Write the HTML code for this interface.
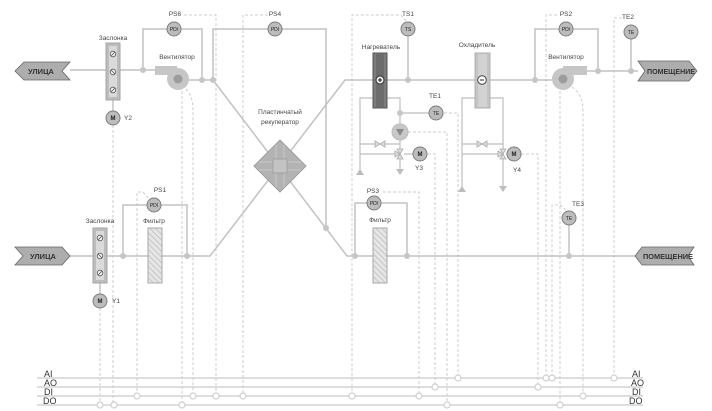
<!DOCTYPE html>
<html><head><meta charset="utf-8">
<style>
html,body{margin:0;padding:0;background:#fff;}
svg{display:block;}
text{font-family:"Liberation Sans",sans-serif;}
</style></head><body>
<svg width="712" height="411" viewBox="0 0 712 411" xmlns="http://www.w3.org/2000/svg">
<defs>
<pattern id="hatch" width="4" height="4" patternUnits="userSpaceOnUse" patternTransform="rotate(-45)">
<rect width="4" height="4" fill="#e6e6e6"/>
<line x1="0" y1="0" x2="0" y2="4" stroke="#bdbdbd" stroke-width="1.6"/>
</pattern>
</defs>
<rect width="712" height="411" fill="#fff"/>

<!-- bus lines -->
<g stroke="#d3d3d3" stroke-width="1.6">
<line x1="37" y1="378" x2="643" y2="378"/>
<line x1="37" y1="387" x2="643" y2="387"/>
<line x1="37" y1="396" x2="643" y2="396"/>
<line x1="37" y1="405" x2="643" y2="405"/>
</g>

<!-- dashed signal lines -->
<g fill="none" stroke="#cdcdcd" stroke-width="1" stroke-dasharray="3,2">
<path d="M113 125 V405"/>
<path d="M100 308 V405"/>
<path d="M137 396 V192 H143 L148 198"/>
<path d="M182 91 V405"/>
<path d="M186 89 Q193 96 193 110 V396"/>
<path d="M184 15 H216 V396"/>
<path d="M268 15 H243 V396"/>
<path d="M406 21 L401 15 H352 V396"/>
<path d="M383 192 H419 V396"/>
<path d="M428 154 H435 V387"/>
<path d="M408 132 H447 V405"/>
<path d="M444 113 H458 V378"/>
<path d="M521 154 H538 V387"/>
<path d="M557 15 H546 V378"/>
<path d="M566 210 L560 205 H552 V378"/>
<path d="M560 91 V405"/>
<path d="M572 87 Q583 95 583 110 V396"/>
<path d="M622 18 H614 V378"/>
</g>

<!-- bus circles -->
<g fill="#fff" stroke="#cfcfcf" stroke-width="1.2">
<circle cx="458" cy="378" r="3"/><circle cx="546" cy="378" r="3"/><circle cx="552" cy="378" r="3"/><circle cx="614" cy="378" r="3"/>
<circle cx="435" cy="387" r="3"/><circle cx="538" cy="387" r="3"/>
<circle cx="137" cy="396" r="3"/><circle cx="193" cy="396" r="3"/><circle cx="216" cy="396" r="3"/><circle cx="243" cy="396" r="3"/><circle cx="352" cy="396" r="3"/><circle cx="419" cy="396" r="3"/><circle cx="583" cy="396" r="3"/>
<circle cx="100" cy="405" r="3"/><circle cx="114" cy="405" r="3"/><circle cx="182" cy="405" r="3"/><circle cx="447" cy="405" r="3"/><circle cx="560" cy="405" r="3"/>
</g>
<g font-size="9" fill="#333">
<text x="44" y="377">AI</text><text x="44" y="386">AO</text><text x="44" y="395">DI</text><text x="43" y="404">DO</text>
<text x="632" y="377">AI</text><text x="631" y="386">AO</text><text x="632" y="395">DI</text><text x="629" y="404">DO</text>
</g>

<!-- ducts -->
<g fill="none" stroke="#c2c2c2" stroke-width="1.5">
<path d="M70 70 H106"/>
<path d="M120 70 H155"/>
<path d="M143 70 V29 H167"/>
<path d="M181 29 H202 V80"/>
<path d="M189 80 H213"/>
<path d="M213 80 V29 H268"/>
<path d="M282 29 H326 V228"/>
<path d="M213 80 L347 256 H635"/>
<path d="M70 256 H93"/>
<path d="M107 256 H210 L345 80 H552"/>
<path d="M123 256 V205 H147"/>
<path d="M161 205 H187 V256"/>
<path d="M355 256 V203 H367"/>
<path d="M381 203 H407 V256"/>
<path d="M408 36 V80"/>
<path d="M535 80 V29 H559"/>
<path d="M573 29 H598 V71"/>
<path d="M587 71 H638"/>
<path d="M631 39 V71"/>
<path d="M569 225 V256"/>
<path d="M113 100 V111"/>
<path d="M100 283 V294"/>
</g>

<!-- piping -->
<g fill="none" stroke="#bdbdbd" stroke-width="1.2">
<path d="M360 170 V98 H400 V170"/>
<path d="M360 144 H400"/>
<path d="M360 154 H396"/>
<path d="M400 113 H429"/>
<path d="M404 154 H413"/>
<path d="M462 187 V98 H503 V187"/>
<path d="M462 144 H503"/>
<path d="M462 154 H499"/>
<path d="M506 154 H507"/>
</g>
<g fill="#bdbdbd">
<polygon points="356,175 364,175 360,169"/>
<polygon points="396,169 404,169 400,175"/>
<polygon points="458,192 466,192 462,186"/>
<polygon points="499,186 507,186 503,192"/>
</g>
<!-- bowtie valves -->
<g fill="#dedede" stroke="#aaa" stroke-width="0.8">
<polygon points="375,141 380,144 375,147"/><polygon points="385,141 380,144 385,147"/>
<polygon points="477,141 482,144 477,147"/><polygon points="487,141 482,144 487,147"/>
<polygon points="397,149 400,154 403,149"/><polygon points="397,159 400,154 403,159"/><polygon points="395,151 400,154 395,157"/>
<polygon points="500,149 503,154 506,149"/><polygon points="500,159 503,154 506,159"/><polygon points="498,151 503,154 498,157"/>
</g>
<!-- pump -->
<circle cx="400" cy="132" r="8" fill="#c8c8c8" stroke="#bbb"/>
<polygon points="396,129 404,129 400,136" fill="#8a8a8a"/>

<!-- junction dots -->
<g fill="#c6c6c6">
<circle cx="143" cy="70" r="3"/><circle cx="202" cy="80" r="3"/><circle cx="213" cy="80" r="3"/>
<circle cx="123" cy="256" r="3"/><circle cx="187" cy="256" r="3"/>
<circle cx="326" cy="228" r="3"/><circle cx="355" cy="256" r="3"/><circle cx="407" cy="256" r="3"/><circle cx="569" cy="256" r="3"/>
<circle cx="408" cy="80" r="3"/><circle cx="400" cy="113" r="3"/>
<circle cx="535" cy="80" r="3"/><circle cx="598" cy="71" r="3"/><circle cx="631" cy="71" r="3"/>
</g>

<!-- arrows -->
<polygon points="15,71 24,62 70,62 62,71 70,80 24,80" fill="#adadad" stroke="#666" stroke-width="0.8"/>
<text x="41" y="74" font-size="7.5" font-weight="bold" fill="#333" text-anchor="middle">УЛИЦА</text>
<polygon points="15,247 62,247 70,256 62,265 15,265 23,256" fill="#adadad" stroke="#666" stroke-width="0.8"/>
<text x="43" y="259" font-size="7.5" font-weight="bold" fill="#333" text-anchor="middle">УЛИЦА</text>
<polygon points="638,61 689,61 697,71 689,81 638,81 645,71" fill="#adadad" stroke="#666" stroke-width="0.8"/>
<text x="647" y="74" font-size="7" font-weight="bold" fill="#333" textLength="48" lengthAdjust="spacingAndGlyphs">ПОМЕЩЕНИЕ</text>
<polygon points="635,256 642,247 694,247 688,256 694,265 642,265" fill="#adadad" stroke="#666" stroke-width="0.8"/>
<text x="643" y="259" font-size="7" font-weight="bold" fill="#333" textLength="50" lengthAdjust="spacingAndGlyphs">ПОМЕЩЕНИЕ</text>

<!-- dampers -->
<rect x="106" y="43" width="14" height="57" fill="#bdbdbd" stroke="#a5a5a5"/>
<rect x="109" y="46" width="8" height="51" fill="#dadada"/>
<rect x="93" y="228" width="14" height="55" fill="#bdbdbd" stroke="#a5a5a5"/>
<rect x="96" y="231" width="8" height="49" fill="#dadada"/>
<g fill="#f0f0f0" stroke="#555" stroke-width="0.8">
<circle cx="113" cy="54" r="2.8"/><circle cx="113" cy="72" r="2.8"/><circle cx="113" cy="90" r="2.8"/>
<circle cx="100" cy="238" r="2.8"/><circle cx="100" cy="256" r="2.8"/><circle cx="100" cy="273" r="2.8"/>
</g>
<g stroke="#555" stroke-width="0.8">
<line x1="111" y1="56" x2="115" y2="52"/><line x1="111" y1="70" x2="115" y2="74"/><line x1="111" y1="92" x2="115" y2="88"/>
<line x1="98" y1="240" x2="102" y2="236"/><line x1="98" y1="254" x2="102" y2="258"/><line x1="98" y1="275" x2="102" y2="271"/>
</g>

<!-- filters -->
<rect x="148" y="228" width="14" height="55" fill="url(#hatch)" stroke="#a8a8a8"/>
<rect x="373" y="228" width="14" height="55" fill="url(#hatch)" stroke="#a8a8a8"/>

<!-- fans -->
<rect x="155" y="66" width="22" height="9" fill="#c6c6c6"/>
<circle cx="178" cy="79" r="11" fill="#c6c6c6"/>
<circle cx="178" cy="79" r="4.5" fill="#9c9c9c"/>
<rect x="563" y="66" width="24" height="9" fill="#c6c6c6"/>
<circle cx="563" cy="79" r="11" fill="#c6c6c6"/>
<circle cx="563" cy="79" r="4.5" fill="#9c9c9c"/>

<!-- recuperator -->
<polygon points="280,140 306,166 280,192 254,166" fill="#b3b3b3" stroke="#a0a0a0"/>
<g stroke="#c9c9c9" stroke-width="1">
<line x1="259" y1="162" x2="301" y2="162"/><line x1="259" y1="170" x2="301" y2="170"/>
<line x1="276" y1="145" x2="276" y2="187"/><line x1="284" y1="145" x2="284" y2="187"/>
</g>
<rect x="273" y="159" width="14" height="14" fill="#c3c3c3" stroke="#a3a3a3"/>

<!-- heater -->
<rect x="373" y="53" width="14" height="55" fill="#7c7c7c" stroke="#555"/>
<rect x="376" y="54" width="8" height="53" fill="#6c6c6c"/>
<circle cx="380" cy="80" r="4" fill="#eee" stroke="#333"/>
<path d="M378 80 H382 M380 78 V82" stroke="#222" stroke-width="1.1"/>
<!-- cooler -->
<rect x="475" y="53" width="15" height="55" fill="#c4c4c4" stroke="#b0b0b0"/>
<rect x="478" y="54" width="9" height="53" fill="#d2d2d2"/>
<circle cx="482" cy="80" r="4.3" fill="#fff" stroke="#444"/>
<path d="M480 80 H484" stroke="#222" stroke-width="1"/>

<!-- sensors -->
<g fill="#bcbcbc" stroke="#7d7d7d" stroke-width="1">
<circle cx="174" cy="29" r="7"/>
<circle cx="275" cy="29" r="7"/>
<circle cx="408" cy="29" r="7"/>
<circle cx="566" cy="29" r="7"/>
<circle cx="631" cy="32" r="7"/>
<circle cx="154" cy="205" r="7"/>
<circle cx="374" cy="203" r="7"/>
<circle cx="436" cy="113" r="7"/>
<circle cx="569" cy="218" r="7"/>
<circle cx="113" cy="118" r="7"/>
<circle cx="100" cy="301" r="7"/>
<circle cx="420" cy="154" r="7"/>
<circle cx="514" cy="154" r="7"/>
</g>
<g font-size="5" fill="#222" text-anchor="middle">
<text x="174" y="31">PDI</text>
<text x="275" y="31">PDI</text>
<text x="408" y="31">TS</text>
<text x="566" y="31">PDI</text>
<text x="631" y="34">TE</text>
<text x="154" y="207">PDI</text>
<text x="374" y="205">PDI</text>
<text x="436" y="115">TE</text>
<text x="569" y="220">TE</text>
</g>
<g font-size="6" font-weight="bold" fill="#222" text-anchor="middle">
<text x="113" y="120">M</text>
<text x="100" y="303">M</text>
<text x="420" y="156">M</text>
<text x="514" y="156">M</text>
</g>

<!-- labels -->
<g font-size="6.5" fill="#444" text-anchor="middle">
<text x="175" y="16">PS6</text>
<text x="275" y="16">PS4</text>
<text x="408" y="16">TS1</text>
<text x="566" y="16">PS2</text>
<text x="628" y="19">TE2</text>
<text x="160" y="192">PS1</text>
<text x="373" y="193">PS3</text>
<text x="435" y="98">TE1</text>
<text x="578" y="206">TE3</text>
<text x="128" y="120">Y2</text>
<text x="116" y="303">Y1</text>
<text x="419" y="170">Y3</text>
<text x="517" y="172">Y4</text>
<text x="113" y="40">Заслонка</text>
<text x="100" y="223">Заслонка</text>
<text x="177" y="59">Вентилятор</text>
<text x="566" y="59">Вентилятор</text>
<text x="154" y="223">Фильтр</text>
<text x="380" y="222">Фильтр</text>
<text x="381" y="49">Нагреватель</text>
<text x="477" y="47">Охладитель</text>
<text x="280" y="114">Пластинчатый</text>
<text x="280" y="124">рекуператор</text>
</g>
</svg>
</body></html>
